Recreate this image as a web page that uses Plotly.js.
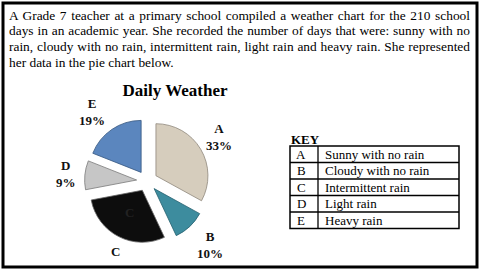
<!DOCTYPE html>
<html>
<head>
<meta charset="utf-8">
<script src="https://cdn.plot.ly/plotly-3.0.1.min.js"></script>
<style>
  html, body { margin: 0; padding: 0; background: #fff; }
  #chart { width: 484px; height: 275px; }
</style>
</head>
<body>
<div id="chart"></div>
<script>
// ---- data ----
const sliceLetters = ['A', 'B', 'C', 'D', 'E'];
const sliceValues = [33, 10, 29, 9, 19];
const shownPercents = ['33%', '10%', '', '9%', '19%'];
const sliceColors = ['#d6cdbd', '#3d8c9e', '#0d0d0d', '#c6c6c6', '#5b86be'];
const sliceEdges = ['#8f887c', '#245f6e', '#666666', '#7a7a7a', '#33557f'];
const keyDescriptions = ['Sunny with no rain', 'Cloudy with no rain', 'Intermittent rain', 'Light rain', 'Heavy rain'];
const introLines = [
  'A Grade 7 teacher at a primary school compiled a weather chart for the 210 school',
  'days in an academic year. She recorded the number of days that were: sunny with no',
  'rain, cloudy with no rain, intermittent rain, light rain and heavy rain. She represented',
  'her data in the pie chart below.'
];
const chartTitle = 'Daily Weather';
const keyTitle = 'KEY';

// ---- layout (pixel -> paper) ----
const W = 484, H = 275;
const px = x => x / W;
const py = y => 1 - y / H;
const serif = 'Liberation Serif, Times New Roman, serif';
// label block centres around the pie (pixels), one per slice
const labelSpots = [[218.5, 136.5], [209.5, 244.5], [115, 251], [66, 173.5], [92, 111.5]];

const trace = {
  type: 'pie',
  values: sliceValues,
  labels: sliceLetters,
  textinfo: 'none',
  sort: false,
  direction: 'clockwise',
  rotation: 0,
  pull: [0.2, 0.2, 0.2, 0.2, 0.2],
  marker: { colors: sliceColors, line: { color: sliceEdges, width: 0.8 } },
  showlegend: false,
  hoverinfo: 'skip',
  domain: { x: [px(147 - 62.4), px(147 + 62.4)], y: [py(181 + 62.4), py(181 - 62.4)] }
};

const annotations = [];
introLines.forEach((t, i) => {
  annotations.push({
    xref: 'paper', yref: 'paper', x: px(7), y: py(15 + i * 15.7),
    xanchor: 'left', yanchor: 'middle', showarrow: false, align: 'left',
    text: t, font: { family: serif, size: 13.4, color: '#000' }
  });
});
// slice labels
sliceLetters.forEach((l, i) => {
  const t = shownPercents[i] ? l + '<br>' + shownPercents[i] : l;
  annotations.push({
    xref: 'paper', yref: 'paper', x: px(labelSpots[i][0]), y: py(labelSpots[i][1]),
    xanchor: 'center', yanchor: 'middle', showarrow: false, align: 'center',
    text: t, font: { family: serif, size: 13, color: '#111', weight: 'bold' }
  });
});
// inner label in slice C
annotations.push({
  xref: 'paper', yref: 'paper', x: px(129), y: py(212), xanchor: 'center', yanchor: 'middle',
  showarrow: false, text: sliceLetters[2], font: { family: serif, size: 13, color: '#222', weight: 'bold' }
});
// KEY title
annotations.push({
  xref: 'paper', yref: 'paper', x: px(289), y: py(139), xanchor: 'left', yanchor: 'middle',
  showarrow: false, text: keyTitle, font: { family: serif, size: 13, color: '#000', weight: 'bold' }
});

const tLeft = 290, tRight = 459, tTop = 146, rowH = 16.5, colX = 318;
const shapes = [];
shapes.push({ type: 'rect', xref: 'paper', yref: 'paper', x0: px(3), x1: px(477), y0: py(267), y1: py(3),
  line: { color: '#000', width: 3 }, fillcolor: 'rgba(0,0,0,0)' });
const tBottom = tTop + rowH * sliceLetters.length;
shapes.push({ type: 'rect', xref: 'paper', yref: 'paper', x0: px(tLeft), x1: px(tRight), y0: py(tBottom), y1: py(tTop),
  line: { color: '#000', width: 1.5 }, fillcolor: 'rgba(0,0,0,0)' });
shapes.push({ type: 'line', xref: 'paper', yref: 'paper', x0: px(colX), x1: px(colX), y0: py(tBottom), y1: py(tTop),
  line: { color: '#000', width: 1.3 } });
sliceLetters.forEach((l, i) => {
  if (i > 0) {
    shapes.push({ type: 'line', xref: 'paper', yref: 'paper', x0: px(tLeft), x1: px(tRight),
      y0: py(tTop + rowH * i), y1: py(tTop + rowH * i), line: { color: '#000', width: 1.3 } });
  }
  const cy = tTop + rowH * i + rowH / 2;
  annotations.push({ xref: 'paper', yref: 'paper', x: px(301), y: py(cy), xanchor: 'center', yanchor: 'middle',
    showarrow: false, text: l, font: { family: serif, size: 13, color: '#000' } });
  annotations.push({ xref: 'paper', yref: 'paper', x: px(323), y: py(cy), xanchor: 'left', yanchor: 'middle',
    showarrow: false, text: keyDescriptions[i], font: { family: serif, size: 13, color: '#000' } });
});

const layout = {
  width: W, height: H,
  margin: { l: 0, r: 0, t: 0, b: 0 },
  paper_bgcolor: '#fff',
  title: { text: chartTitle, x: px(175), xanchor: 'center', xref: 'paper', y: py(90), yanchor: 'middle', yref: 'paper',
    font: { family: serif, size: 17, color: '#000', weight: 'bold' } },
  annotations: annotations,
  shapes: shapes
};

Plotly.newPlot('chart', [trace], layout, { displayModeBar: false, staticPlot: true }).then(() => {
  // justify the paragraph lines (all but the last) to the reference width
  const target = 461;
  introLines.forEach((t, i) => {
    if (i === introLines.length - 1) return;
    const g = document.querySelector('g.annotation[data-index="' + i + '"]');
    if (!g) return;
    const txt = g.querySelector('text.annotation-text');
    if (!txt) return;
    const w = txt.getComputedTextLength();
    const spaces = (t.match(/ /g) || []).length;
    if (spaces && w < target) txt.style.wordSpacing = ((target - w) / spaces) + 'px';
  });
});
</script>
</body>
</html>
